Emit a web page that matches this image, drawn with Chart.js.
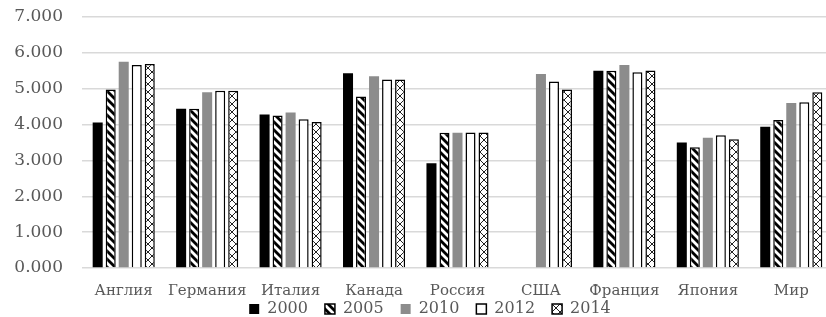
<!DOCTYPE html>
<html>
<head>
<meta charset="utf-8">
<script src="https://cdn.jsdelivr.net/npm/chart.js@4/dist/chart.umd.min.js"></script>
<style>
  html, body { margin: 0; padding: 0; background: #fff; overflow: hidden; }
  #wrap { position: relative; width: 833px; height: 317px; }
</style>
</head>
<body>
<div id="wrap"><canvas id="chart"></canvas></div>
<script>
// data
const countries = ["Англия", "Германия", "Италия", "Канада", "Россия", "США", "Франция", "Япония", "Мир"];
const years = ["2000", "2005", "2010", "2012", "2014"];
const v2000 = [4060, 4440, 4280, 5430, 2920, null, 5500, 3500, 3940];
const v2005 = [4980, 4440, 4250, 4780, 3770, null, 5500, 3370, 4130];
const v2010 = [5750, 4900, 4340, 5350, 3770, 5410, 5660, 3630, 4600];
const v2012 = [5660, 4940, 4150, 5260, 3780, 5200, 5460, 3700, 4620];
const v2014 = [5690, 4940, 4070, 5260, 3780, 4980, 5510, 3590, 4900];

const TXT = "#595959";

// ═══ fill patterns ═══
function hatchPattern() {
  const c = document.createElement("canvas");
  c.width = 8; c.height = 8;
  const g = c.getContext("2d");
  g.fillStyle = "#fff"; g.fillRect(0, 0, 8, 8);
  g.strokeStyle = "#000"; g.lineWidth = 2.8;
  [-8, 0, 8].forEach((o) => {
    g.beginPath(); g.moveTo(o - 1, -1); g.lineTo(o + 9, 9); g.stroke();
  });
  return g.createPattern(c, "repeat");
}

function crossPattern() {
  const c = document.createElement("canvas");
  c.width = 8; c.height = 8;
  const g = c.getContext("2d");
  g.fillStyle = "#fff"; g.fillRect(0, 0, 8, 8);
  g.strokeStyle = "#222"; g.lineWidth = 1;
  g.beginPath(); g.moveTo(0, 0); g.lineTo(8, 8); g.stroke();
  g.beginPath(); g.moveTo(8, 0); g.lineTo(0, 8); g.stroke();
  return g.createPattern(c, "repeat");
}

const hatch = hatchPattern();
const cross = crossPattern();

const series = [
  { data: v2000, backgroundColor: "#000000", borderColor: "#000000", borderWidth: 0 },
  { data: v2005, backgroundColor: hatch, borderColor: "#000000", borderWidth: 1.5 },
  { data: v2010, backgroundColor: "#8c8c8c", borderColor: "#8c8c8c", borderWidth: 0 },
  { data: v2012, backgroundColor: "#ffffff", borderColor: "#000000", borderWidth: 1.5 },
  { data: v2014, backgroundColor: cross, borderColor: "#000000", borderWidth: 1.5 },
];

const fmt = (v) => (v / 1000).toFixed(3);

// legend: keep it thin in the layout, then place it like the original
const legendPlace = {
  id: "legendPlace",
  beforeLayout(chart) {
    const lg = chart.legend;
    if (!lg || lg._thin) return;
    const fit = lg.fit;
    lg.fit = function () { fit.call(this); this.height = 10; };
    lg._thin = true;
  },
  afterLayout(chart) {
    const lg = chart.legend;
    lg.top = 284;
    lg.bottom = 317;
    lg.height = 33;
    lg.left = 27;
  },
};

new Chart(document.getElementById("chart"), {
  type: "bar",
  data: {
    labels: countries,
    datasets: series.map((s, i) => ({
      label: years[i],
      ...s,
      categoryPercentage: 0.78,
      barPercentage: 0.77,
    })),
  },
  options: {
    responsive: true,
    maintainAspectRatio: false,
    animation: false,
    layout: { padding: { left: 0, right: 0, top: 17, bottom: 0 } },
    plugins: {
      tooltip: { enabled: false },
      legend: {
        position: "bottom",
        labels: {
          boxWidth: 10,
          boxHeight: 10,
          padding: 17,
          color: TXT,
          font: { family: "DejaVu Serif", size: 16 },
        },
      },
    },
    scales: {
      x: {
        afterFit: (s) => { s.height = 39; },
        grid: { display: false },
        border: { display: false },
        ticks: { color: TXT, font: { family: "DejaVu Serif", size: 15 }, padding: 6, maxRotation: 0 },
      },
      y: {
        min: 0,
        max: 7000,
        afterFit: (s) => { s.width = 82; s.paddingTop = 0; s.paddingBottom = 0; },
        grid: { color: "#d9d9d9", lineWidth: 1.5, drawTicks: false },
        border: { display: false },
        ticks: {
          stepSize: 1000,
          padding: 19,
          color: TXT,
          font: { family: "DejaVu Serif", size: 17 },
          callback: (v) => fmt(v),
        },
      },
    },
  },
  plugins: [legendPlace],
});
</script>
</body>
</html>
